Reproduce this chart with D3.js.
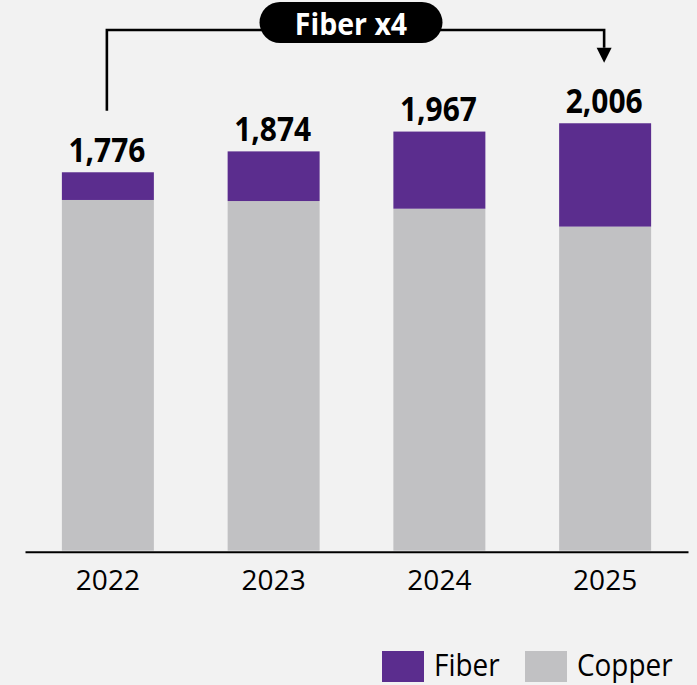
<!DOCTYPE html>
<html>
<head>
<meta charset="utf-8">
<script src="https://cdn.jsdelivr.net/npm/d3@7"></script>
<style>
  html, body { margin: 0; padding: 0; background: #f2f2f2; }
  svg { display: block; font-family: "Open Sans", "Noto Sans", sans-serif; }
</style>
</head>
<body>
<svg id="chart" width="697" height="685"></svg>
<script>
// Lines by access technology, thousands
const years  = ["2022", "2023", "2024", "2025"];
const copper = [1646, 1641, 1605, 1521];
const fiber  = [130, 233, 362, 485];
const seriesKeys = ["Copper", "Fiber"];
const legendKeys = ["Fiber", "Copper"];
const calloutText = "Fiber x4";

const colors = { Fiber: "#5b2d8e", Copper: "#c1c1c3" };
const W = 697, H = 685;

const rows = years.map((yr, i) => ({ year: yr, Copper: copper[i], Fiber: fiber[i] }));
const totals = rows.map(r => r.Copper + r.Fiber);

const svg = d3.select("#chart");
svg.append("rect").attr("width", W).attr("height", H).attr("fill", "#f2f2f2");

const x = d3.scaleBand()
  .domain(years)
  .range([25, 688])
  .paddingInner(0.445)
  .paddingOuter(0.2225);

const y = d3.scaleLinear()
  .domain([0, 2500])
  .range([550.7, 18]);

const cx = yr => x(yr) + x.bandwidth() / 2;

// stacked bars
const stacked = d3.stack().keys(seriesKeys)(rows);
svg.append("g")
  .selectAll("g")
  .data(stacked)
  .join("g")
  .attr("fill", d => colors[d.key])
  .selectAll("rect")
  .data(d => d)
  .join("rect")
  .attr("x", d => x(d.data.year))
  .attr("width", x.bandwidth())
  .attr("y", d => y(d[1]))
  .attr("height", d => y(d[0]) - y(d[1]));

// x axis with baseline
const axis = svg.append("g")
  .attr("transform", "translate(0,551.7)")
  .call(d3.axisBottom(x).tickSize(0).tickSizeOuter(0).tickPadding(18.4));
axis.select(".domain").attr("stroke", "#000").attr("stroke-width", 2);
axis.selectAll(".tick text")
  .attr("font-family", "'Open Sans', 'Noto Sans', sans-serif")
  .attr("font-size", 28)
  .attr("fill", "#000");

// total labels above each bar
const fmt = d3.format(",");
svg.append("g")
  .selectAll("text")
  .data(rows)
  .join("text")
  .attr("transform", (d, i) => `translate(${cx(d.year) - 1},${y(totals[i]) - 10.6}) scale(0.88,1)`)
  .attr("text-anchor", "middle")
  .attr("font-size", 34)
  .attr("font-weight", 700)
  .attr("fill", "#000")
  .text((d, i) => fmt(totals[i]));

// growth callout bracket from first to last year
const first = years[0], last = years[years.length - 1];
const lineY = 30;
const xl = cx(first) - 1, xr = cx(last) - 1;
const leftEnd = y(totals[0]) - 10.6 - 24 - 27;
const tipY = y(totals[totals.length - 1]) - 10.6 - 24 - 26;
const headH = 15, headW = 15;

svg.append("path")
  .attr("d", `M${xl},${leftEnd}V${lineY}H${xr}V${tipY - headH}`)
  .attr("fill", "none")
  .attr("stroke", "#000")
  .attr("stroke-width", 2.6);
svg.append("path")
  .attr("d", `M${xr - headW / 2},${tipY - headH}L${xr + headW / 2},${tipY - headH}L${xr},${tipY}Z`)
  .attr("fill", "#000");

const pillW = 183, pillH = 41, pillCx = (xl + xr) / 2 - 4.5;
svg.append("rect")
  .attr("x", pillCx - pillW / 2)
  .attr("y", 2)
  .attr("width", pillW)
  .attr("height", pillH)
  .attr("rx", pillH / 2)
  .attr("fill", "#000");
svg.append("text")
  .attr("transform", `translate(${pillCx},35) scale(0.92,1)`)
  .attr("text-anchor", "middle")
  .attr("font-size", 31)
  .attr("font-weight", 700)
  .attr("fill", "#fff")
  .text(calloutText);

// legend
const legend = svg.append("g");
const legendX = [382, 525];
legendKeys.forEach((k, i) => {
  legend.append("rect")
    .attr("x", legendX[i])
    .attr("y", 651)
    .attr("width", 42)
    .attr("height", 31)
    .attr("fill", colors[k]);
  legend.append("text")
    .attr("transform", `translate(${legendX[i] + 52},675.5) scale(0.9,1)`)
    .attr("font-size", 31)
    .attr("fill", "#000")
    .text(k);
});
</script>
</body>
</html>
